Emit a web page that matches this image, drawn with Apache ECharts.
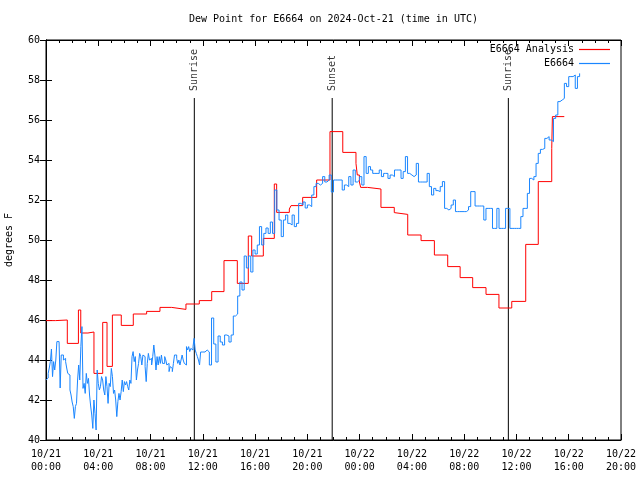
<!DOCTYPE html>
<html>
<head>
<meta charset="utf-8">
<script src="https://cdn.jsdelivr.net/npm/echarts@6/dist/echarts.min.js"></script>
<style>html,body{margin:0;padding:0;background:#fff;}#chart{width:640px;height:480px;}</style>
</head>
<body>
<div id="chart"></div>
<script>
const chartTitle = 'Dew Point for E6664 on 2024-Oct-21 (time in UTC)';
const yAxisName = 'degrees F';
const xTickLabels = ['10/21\n00:00','10/21\n04:00','10/21\n08:00','10/21\n12:00','10/21\n16:00','10/21\n20:00',
                     '10/22\n00:00','10/22\n04:00','10/22\n08:00','10/22\n12:00','10/22\n16:00','10/22\n20:00'];
const analysisName = 'E6664 Analysis';
const obsName = 'E6664';

// Analysis (step) : hours since 10/21 00:00 UTC, value held until next change
const analysisHours = [0, 0.74, 1.63, 2.48, 2.66, 3.21, 3.67, 4.34, 4.67, 5.08, 5.76, 6.68, 7.7, 8.72, 9.62, 10.71, 11.73,
  12.68, 13.62, 14.64, 15.48, 15.74, 16.63, 17.47, 17.65, 18.62, 18.75, 19.64, 20.71, 21.73, 22.71, 23.72, 23.82, 23.98,
  24.08, 24.61, 25.63, 26.65, 26.76, 27.68, 28.7, 29.72, 30.74, 31.69, 32.65, 33.67, 34.66, 35.64, 36.71, 37.67, 38.7,
  38.75, 39.66];
const analysisValues = [45.97, 46.0, 44.83, 46.5, 45.35, 45.4, 43.33, 45.88, 43.68, 46.25, 45.73, 46.3, 46.43, 46.63, 46.53, 46.8, 46.97,
  47.42, 48.97, 47.83, 50.2, 49.2, 50.08, 52.8, 51.38, 51.55, 51.72, 52.13, 53.0, 55.42, 54.38, 53.83, 53.25, 52.9,
  52.63, 52.55, 51.63, 51.37, 51.28, 50.25, 49.97, 49.25, 48.67, 48.12, 47.62, 47.28, 46.6, 46.93, 49.78, 52.92, 54.58,
  56.17, 56.17];

// Observations, first 12 h: every 5 minutes from 10/21 00:00 UTC
const obsEarlyStartHour = 0;
const obsEarlyStepHours = 1 / 12;
const obsEarlyValues = [
  43.0, 43.1, 43.33, 43.6, 43.92, 44.55, 43.17, 43.92, 43.5, 44.0,
  44.92, 44.92, 44.92, 42.6, 44.25, 44.25, 44.0, 44.08, 43.92, 43.6,
  43.33, 43.25, 42.5, 42.25, 41.9, 41.67, 41.08, 41.67, 41.83, 43.0,
  43.75, 43.0, 44.67, 45.67, 42.58, 42.83, 42.33, 43.33, 42.83, 43.08,
  42.25, 41.7, 41.25, 40.58, 42.0, 41.33, 40.5, 43.5, 42.83, 42.5,
  42.67, 43.17, 43.0, 42.5, 42.25, 43.17, 42.67, 41.83, 42.83, 42.67,
  43.58, 43.17, 42.33, 42.5, 42.0, 41.17, 41.92, 42.33, 42.0, 42.42,
  43.0, 42.42, 42.92, 42.75, 42.92, 42.67, 42.5, 43.0, 42.83, 44.17,
  44.42, 43.92, 44.17, 43.0, 43.5, 43.83, 44.33, 44.17, 43.75, 44.25,
  44.17, 43.67, 42.92, 43.83, 44.33, 44.0, 44.08, 43.75, 44.17, 44.75,
  44.25, 43.5, 44.17, 43.75, 44.17, 43.83, 44.25, 43.83, 43.83, 44.17,
  44.0, 43.75, 43.83, 43.42, 43.67, 43.58, 43.42, 43.83, 44.25, 44.25,
  44.08, 43.83, 44.0, 43.75, 44.0, 44.25, 44.0, 43.83, 43.75, 44.67,
  44.5, 44.67, 44.42, 44.58, 44.5, 44.67, 45.08, 44.5, 44.33, 44.17,
  44.0, 43.75, 44.4, 44.4];

// Observations after 12:00: every 10 minutes from 10/21 12:00 UTC
const obsLateStartHour = 12;
const obsLateStepHours = 1 / 6;
const obsLateValues = [
  44.4, 44.5, 44.4, 43.75, 46.1, 44.8, 43.9, 45.2,
  44.9, 44.75, 45.25, 45.2, 44.9, 45.25, 46.2, 46.3, 47.2, 47.9,
  47.5, 49.2, 48.6, 49.2, 48.4, 49.5, 49.3, 49.75, 50.67, 49.75,
  50.33, 50.6, 50.33, 50.9, 50.33, 52.5, 51.5, 51.0, 50.17, 51.0,
  51.25, 50.83, 50.75, 51.25, 50.67, 50.83, 51.83, 51.75, 51.9, 51.6,
  51.75, 51.67, 52.25, 52.67, 52.83, 52.75, 52.83, 53.17, 52.9, 53.0,
  53.25, 52.4, 53.0, 53.0, 53.0, 53.0, 52.5, 52.75, 52.67, 53.17,
  52.75, 53.5, 52.9, 53.0, 53.17, 52.75, 54.17, 53.33, 53.67, 53.5,
  53.33, 53.33, 53.33, 53.5, 53.17, 53.33, 53.33, 53.08, 53.25, 53.17,
  53.5, 53.5, 53.5, 53.08, 53.42, 54.17, 53.33, 53.25, 53.17, 53.25,
  53.83, 52.9, 52.9, 52.9, 52.9, 53.33, 52.67, 52.25, 52.58, 52.47,
  52.42, 52.67, 52.92, 51.58, 51.5, 51.58, 51.75, 52.0, 51.42, 51.42,
  51.42, 51.42, 51.42, 51.5, 51.67, 52.42, 52.42, 51.7, 51.7, 51.7,
  51.7, 51.0, 51.58, 51.58, 51.58, 50.58, 50.58, 51.58, 50.58, 50.58,
  50.58, 51.58, 51.58, 50.58, 50.58, 50.58, 50.58, 50.58, 51.17, 51.58,
  51.58, 52.33, 53.08, 53.0, 53.17, 53.83, 54.33, 54.53, 54.58, 55.08,
  55.17, 55.0, 54.92, 56.08, 56.25, 56.92, 57.0, 57.08, 57.83, 57.67,
  58.17, 58.17, 58.25, 57.58, 58.17, 58.33];

// Sun events (hours since 10/21 00:00 UTC)
const eventHours = [11.35, 21.9, 35.38];
const eventLabels = ['Sunrise', 'Sunset', 'Sunrise'];
const eventLineTop = 57.1;
const eventLabelBase = 57.4;

const FONT = 'DejaVu Sans Mono';
const RED = '#ff0000';
const BLUE = '#1a86ff';
const analysisData = analysisHours.map((h, i) => [h, analysisValues[i]]);
const obsData = obsEarlyValues.map((v, i) => [obsEarlyStartHour + i * obsEarlyStepHours, v])
  .concat(obsLateValues.map((v, i) => [obsLateStartHour + i * obsLateStepHours, v]));

const series = [];
eventHours.forEach((h, k) => {
  series.push({
    type: 'line', data: [[h, 40], [h, eventLineTop]], symbol: 'none', silent: true,
    lineStyle: { color: '#000', width: 1 }, z: 1
  });
  series.push({
    type: 'scatter', data: [[h, eventLabelBase]], symbolSize: 0, silent: true,
    label: { show: true, formatter: eventLabels[k], position: 'inside', rotate: 90, align: 'left',
      verticalAlign: 'middle', offset: [1, 0], color: '#000', fontFamily: FONT, fontSize: 10 }
  });
});
series.push({
  name: analysisName, type: 'line', data: analysisData, step: 'end', symbol: 'none', showSymbol: false,
  lineStyle: { color: RED, width: 1 }, itemStyle: { color: RED, borderWidth: 0 }, z: 3
});
series.push({
  name: obsName, type: 'line', data: obsData, step: 'end', symbol: 'none', showSymbol: false,
  lineStyle: { color: BLUE, width: 1 }, itemStyle: { color: BLUE, borderWidth: 0 }, z: 4
});

const chart = echarts.init(document.getElementById('chart'), null, { renderer: 'canvas' });
chart.setOption({
  animation: false,
  backgroundColor: '#fff',
  title: { text: chartTitle, left: 189, top: 14, padding: 0,
    textStyle: { fontFamily: FONT, fontSize: 10, fontWeight: 'normal', color: '#000' } },
  legend: {
    data: [
      { name: analysisName, icon: 'rect', itemStyle: { color: RED, borderWidth: 0 } },
      { name: obsName, icon: 'rect', itemStyle: { color: BLUE, borderWidth: 0 } }
    ],
    orient: 'vertical', right: 30, top: 44, align: 'right',
    itemWidth: 31, itemHeight: 1.2, itemGap: 3, padding: 0,
    itemStyle: { borderWidth: 0 },
    lineStyle: { width: 0 },
    textStyle: { fontFamily: FONT, fontSize: 10, color: '#000', lineHeight: 11 }
  },
  grid: { left: 46, right: 19, top: 40, bottom: 40, show: true, borderColor: '#000', borderWidth: 1,
    backgroundColor: 'transparent', containLabel: false, outerBoundsMode: 'none' },
  xAxis: [{
    type: 'value', min: 0, max: 44, interval: 4, position: 'bottom',
    axisLine: { show: true, lineStyle: { color: '#000' } },
    axisTick: { show: true, inside: true, length: 6, lineStyle: { color: '#000' } },
    minorTick: { show: true, splitNumber: 4, length: 3, lineStyle: { color: '#000' } },
    splitLine: { show: false },
    axisLabel: { formatter: v => xTickLabels[Math.round(v / 4)], fontFamily: FONT, fontSize: 10, color: '#000', margin: 8, lineHeight: 13 }
  }, {
    type: 'value', min: 0, max: 44, interval: 4, position: 'top',
    axisLine: { show: true, lineStyle: { color: '#000' } },
    axisTick: { show: true, inside: true, length: 6, lineStyle: { color: '#000' } },
    minorTick: { show: true, splitNumber: 4, length: 3, lineStyle: { color: '#000' } },
    splitLine: { show: false }, axisLabel: { show: false }
  }],
  yAxis: [{
    type: 'value', min: 40, max: 60, interval: 2, position: 'left',
    name: yAxisName, nameLocation: 'middle', nameGap: 32,
    nameTextStyle: { fontFamily: FONT, fontSize: 10, color: '#000' },
    axisLine: { show: true, lineStyle: { color: '#000' } },
    axisTick: { show: true, inside: true, length: 6, lineStyle: { color: '#000' } },
    splitLine: { show: false },
    axisLabel: { fontFamily: FONT, fontSize: 10, color: '#000', margin: 6 }
  }, {
    type: 'value', min: 40, max: 60, interval: 2, position: 'right',
    axisLine: { show: true, lineStyle: { color: '#000' } },
    axisTick: { show: true, inside: true, length: 6, lineStyle: { color: '#000' } },
    splitLine: { show: false }, axisLabel: { show: false }
  }],
  series: series
});
</script>
</body>
</html>
